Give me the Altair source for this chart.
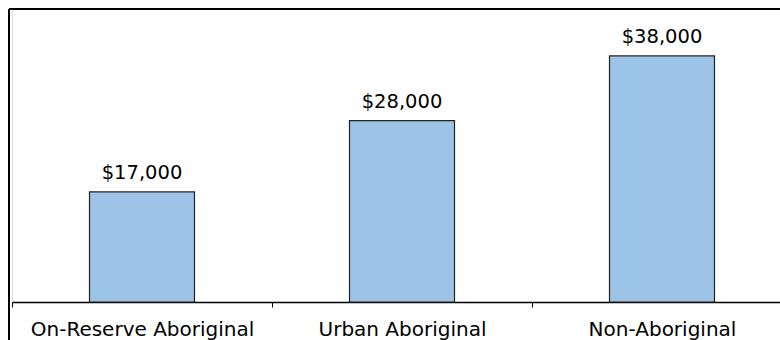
import altair as alt
import pandas as pd

categories = ["On-Reserve Aboriginal", "Urban Aboriginal", "Non-Aboriginal"]
values = [17000, 28000, 38000]

df = pd.DataFrame({"group": categories, "income": values})

FONT = "DejaVu Sans"

x = alt.X(
    "group:N",
    sort=categories,
    scale=alt.Scale(paddingInner=0, paddingOuter=0, range=[0, 780]),
    axis=alt.Axis(
        title=None,
        labelAngle=0,
        labelFont=FONT,
        labelFontSize=20,
        labelColor="black",
        labelPadding=12,
        labelLimit=400,
        domainColor="black",
        domainWidth=1.5,
        tickColor="black",
        tickSize=5,
        tickWidth=1,
        tickBand="extent",
        grid=False,
    ),
)
y = alt.Y("income:Q", scale=alt.Scale(domain=[0, 45250], nice=False), axis=None)

base = alt.Chart(df)

bars = base.mark_bar(size=105, color="#9DC3E6", stroke="#222222", strokeWidth=1.2).encode(x=x, y=y)

labels = base.mark_text(
    font=FONT, fontSize=19.5, color="black", baseline="alphabetic", dy=-13
).encode(x=x, y=y, text=alt.Text("income:Q", format="$,"))

top_line = alt.Chart(df).mark_rule(color="black", strokeWidth=2).encode(
    x=alt.value(-3), x2=alt.value(780), y=alt.value(0)
)
left_line = alt.Chart(df).mark_rule(color="black", strokeWidth=2).encode(
    x=alt.value(-3), y=alt.value(0), y2=alt.value(340)
)

chart = (
    alt.layer(bars, labels, top_line, left_line)
    .properties(
        width=768,
        height=293,
        autosize=alt.AutoSizeParams(type="none"),
        padding={"left": 12, "top": 9, "right": 0, "bottom": 38},
    )
    .configure_view(stroke=None)
    .configure(background="white")
)

chart.save("out.html", embed_options={"renderer": "svg", "actions": False})
